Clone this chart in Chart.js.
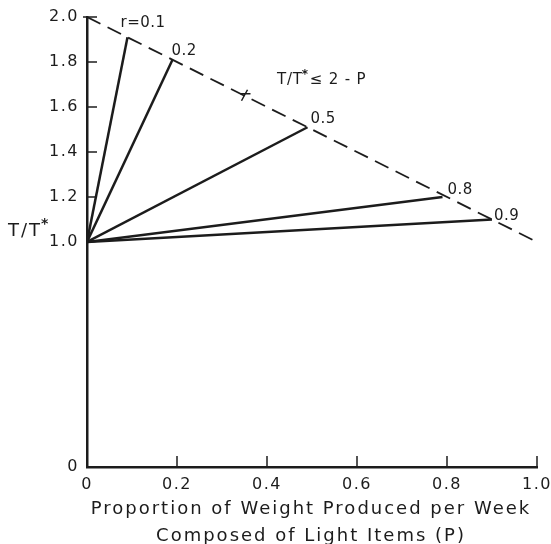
<!DOCTYPE html>
<html>
<head>
<meta charset="utf-8">
<style>
  html, body { margin: 0; padding: 0; background: #ffffff; }
  #wrap { width: 551px; height: 544px; position: relative; }
</style>
<script src="https://cdn.jsdelivr.net/npm/chart.js@4/dist/chart.umd.min.js"></script>
</head>
<body>
<div id="wrap"><canvas id="chart" width="551" height="544"></canvas></div>
<script>
// Ratio values r, and where each ray meets the bound T/T* = 2 - P
const rLabels = ['r=0.1', '0.2', '0.5', '0.8', '0.9'];
const endP    = [0.09, 0.19, 0.49, 0.79, 0.90];
const endT    = [1.91, 1.81, 1.51, 1.20, 1.10];
// every ray starts at P = 0, T/T* = 1.0
const startP = 0;
const startT = 1.0;

// bound line T/T* = 2 - P
const boundP = [0, 1.0];
const boundT = [2.0, 1.0];

// tick values shown on the axes
const xTicks = [0, 0.2, 0.4, 0.6, 0.8, 1.0];
const yTicks = [0, 1.0, 1.2, 1.4, 1.6, 1.8, 2.0];

// axis titles
const xTitle = ['Proportion of Weight Produced per Week', 'Composed of Light Items (P)'];

// pixel offsets of each ray label from the ray's end
const labelOffsets = [[-7, -14], [-1, -9], [3, -8], [5, -7], [2, -3]];

const INK = '#1c1c1c';
const FONT = '"DejaVu Sans", "Liberation Sans", sans-serif';

const rayDatasets = endP.map((p, i) => ({
  label: rLabels[i],
  data: [{ x: startP, y: startT }, { x: p, y: endT[i] }],
  showLine: true,
  borderColor: INK,
  borderWidth: 2.5,
  pointRadius: 0,
  fill: false
}));

const boundDataset = {
  label: 'T/T* ≤ 2 - P',
  data: boundP.map((p, i) => ({ x: p, y: boundT[i] })),
  showLine: true,
  borderColor: INK,
  borderWidth: 1.8,
  borderDash: [15, 8],
  pointRadius: 0,
  fill: false
};

function fmtTick(v) {
  return v === 0 ? '0' : v.toFixed(1);
}

// Text drawn with an asterisk superscript, e.g. T/T*
function drawStarText(ctx, x, y, before, after, size) {
  ctx.font = size + 'px ' + FONT;
  ctx.textAlign = 'left';
  ctx.textBaseline = 'middle';
  ctx.fillText(before, x, y);
  let w = ctx.measureText(before).width;
  ctx.font = 'bold ' + Math.round(size * 0.8) + 'px ' + FONT;
  ctx.fillText('*', x + w - 1, y - size * 0.35);
  w += ctx.measureText('*').width;
  if (after) {
    ctx.font = size + 'px ' + FONT;
    ctx.fillText(after, x + w, y);
  }
}

// Left-aligned drawing centred by measured width
function drawCentred(ctx, text, cx, y) {
  const w = ctx.measureText(text).width;
  ctx.textAlign = 'left';
  ctx.fillText(text, cx - w / 2, y);
}

const annotations = {
  id: 'annotations',
  beforeDraw(chart) {
    chart.ctx.letterSpacing = '1.5px';
  },
  afterDraw(chart) {
    const ctx = chart.ctx;
    const xs = chart.scales.x, ys = chart.scales.y;
    ctx.save();
    ctx.fillStyle = INK;
    ctx.strokeStyle = INK;

    // inward tick marks
    ctx.lineWidth = 1.5;
    xTicks.forEach(v => {
      if (v === 0) return;
      const px = xs.getPixelForValue(v);
      ctx.beginPath();
      ctx.moveTo(px, ys.bottom);
      ctx.lineTo(px, ys.bottom - 11);
      ctx.stroke();
    });
    yTicks.forEach(v => {
      if (v <= 1.0) return;
      const py = ys.getPixelForValue(v);
      ctx.beginPath();
      ctx.moveTo(xs.left - (v === 2.0 ? 4 : 0), py);
      ctx.lineTo(xs.left + 10, py);
      ctx.stroke();
    });

    // ray labels
    ctx.letterSpacing = '0.5px';
    ctx.font = '15px ' + FONT;
    ctx.textAlign = 'left';
    ctx.textBaseline = 'middle';
    endP.forEach((p, i) => {
      const px = xs.getPixelForValue(p);
      const py = ys.getPixelForValue(endT[i]);
      ctx.fillText(rLabels[i], px + labelOffsets[i][0], py + labelOffsets[i][1]);
    });

    // leader mark on the bound line
    const mx = xs.getPixelForValue(0.35), my = ys.getPixelForValue(1.65);
    ctx.lineWidth = 1.5;
    ctx.beginPath();
    ctx.moveTo(mx - 3, my + 5);
    ctx.lineTo(mx + 3, my - 6);
    ctx.moveTo(mx - 4, my - 2);
    ctx.lineTo(mx + 6, my - 2);
    ctx.stroke();

    // bound label
    ctx.letterSpacing = '0.8px';
    drawStarText(ctx, 277, 80, 'T/T', '≤ 2 - P', 15);

    // y-axis title
    ctx.letterSpacing = '2px';
    drawStarText(ctx, 8, 231, 'T/T', '', 18);

    // x-axis title
    ctx.letterSpacing = '2px';
    ctx.font = '18px ' + FONT;
    ctx.textBaseline = 'middle';
    const cx = 311;
    drawCentred(ctx, xTitle[0], cx, 509);
    drawCentred(ctx, xTitle[1], cx, 536);
    ctx.restore();
  }
};

new Chart(document.getElementById('chart'), {
  type: 'scatter',
  data: { datasets: [...rayDatasets, boundDataset] },
  options: {
    responsive: false,
    animation: false,
    layout: { padding: { left: 0, top: 17, right: 14, bottom: 0 } },
    plugins: {
      legend: { display: false },
      tooltip: { enabled: false }
    },
    scales: {
      x: {
        type: 'linear',
        min: 0,
        max: 1.0,
        afterBuildTicks: s => { s.ticks = xTicks.map(v => ({ value: v })); },
        afterFit: s => { s.height = 77; },
        grid: { display: false },
        border: { display: true, color: INK, width: 2.5 },
        ticks: {
          padding: 0,
          color: INK,
          font: { family: FONT, size: 16 },
          callback: v => fmtTick(v),
          maxRotation: 0
        }
      },
      y: {
        type: 'linear',
        min: 0,
        max: 2.0,
        afterBuildTicks: s => { s.ticks = yTicks.map(v => ({ value: v })); },
        afterFit: s => { s.width = 87; },
        grid: { display: false },
        border: { display: true, color: INK, width: 2.5 },
        ticks: {
          padding: 0,
          color: INK,
          font: { family: FONT, size: 16 },
          callback: v => fmtTick(v)
        }
      }
    }
  },
  plugins: [annotations]
});
</script>
</body>
</html>
